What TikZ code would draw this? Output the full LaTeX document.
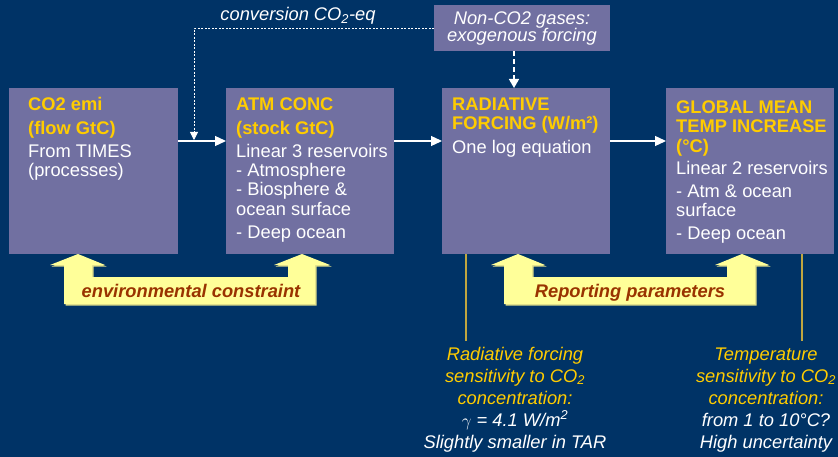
\documentclass[tikz,border=0pt]{standalone}
\usepackage{fontspec}
\setmainfont{Liberation Sans}
\usetikzlibrary{arrows.meta}
\definecolor{bg}{HTML}{003366}
\definecolor{boxc}{HTML}{7170A1}
\definecolor{ttl}{HTML}{FFCC00}
\definecolor{blk}{HTML}{FFFF99}
\definecolor{blksh}{HTML}{DCDC8A}
\definecolor{brn}{HTML}{993300}
\definecolor{goldl}{HTML}{C0A640}
\begin{document}
\begin{tikzpicture}[x=1pt,y=-1pt,
  box/.style={fill=boxc, draw=none, inner sep=0pt, anchor=north west},
  txt/.style={anchor=base west, inner sep=0pt, text=white, font=\fontsize{18.3pt}{19pt}\selectfont},
  ttlt/.style={anchor=base west, inner sep=0pt, text=ttl, font=\fontsize{18.3pt}{19pt}\selectfont\bfseries},
  itw/.style={anchor=base, inner sep=0pt, text=white, font=\fontsize{18.3pt}{19pt}\selectfont\itshape},
  ity/.style={anchor=base, inner sep=0pt, text=ttl, font=\fontsize{18.3pt}{19pt}\selectfont\itshape},
  blkt/.style={anchor=base, inner sep=0pt, text=brn, font=\fontsize{18.3pt}{19pt}\selectfont\bfseries\itshape},
  arr/.style={draw=white, line width=1.3pt, -{Triangle[length=11pt,width=10pt]}},
  dsha/.style={draw=white, line width=0.8pt, dash pattern=on 2pt off 1.5pt, -{Triangle[length=8pt,width=8pt]}},
  dshb/.style={draw=white, line width=1.6pt, dash pattern=on 5pt off 3pt, -{Triangle[length=9pt,width=10pt]}},
  goldline/.style={draw=goldl, line width=1.5pt}
]
\fill[bg] (0,0) rectangle (838,457);
\useasboundingbox (0,0) rectangle (838,457);

% boxes
\node[box, minimum width=169pt, minimum height=166pt] (b1) at (9,88) {};
\node[box, minimum width=168pt, minimum height=166pt] (b2) at (226,88) {};
\node[box, minimum width=168pt, minimum height=166pt] (b3) at (442,88) {};
\node[box, minimum width=168pt, minimum height=166pt] (b4) at (666,88) {};
\node[box, minimum width=176pt, minimum height=46pt] (nc) at (434,5) {};

% box 1 text
\node[ttlt] (t11) at (28,111) {CO2 emi};
\node[ttlt] (t12) at (28,135) {(flow GtC)};
\node[txt] (t13) at (28,158) {From TIMES};
\node[txt] (t14) at (28,177) {(processes)};
% box 2 text
\node[ttlt] (t21) at (236,111) {ATM CONC};
\node[ttlt] (t22) at (236,135) {(stock GtC)};
\node[txt] (t23) at (236,158) {Linear 3 reservoirs};
\node[txt] (t24) at (236,177) {- Atmosphere};
\node[txt] (t25) at (236,196) {- Biosphere \&};
\node[txt] (t26) at (236,215) {ocean surface};
\node[txt] (t27) at (236,239) {- Deep ocean};
% box 3 text
\node[ttlt] (t31) at (452,111) {RADIATIVE};
\node[ttlt] (t32) at (452,129.5) {FORCING (W/m²)};
\node[txt] (t33) at (452,154) {One log equation};
% box 4 text
\node[ttlt] (t41) at (676,114) {GLOBAL MEAN};
\node[ttlt] (t42) at (676,133) {TEMP INCREASE};
\node[ttlt] (t43) at (676,153) {(°C)};
\node[txt] (t44) at (676,175) {Linear 2 reservoirs};
\node[txt] (t45) at (676,198) {- Atm \& ocean};
\node[txt] (t46) at (676,217) {surface};
\node[txt] (t47) at (676,240) {- Deep ocean};
% non-CO2 text
\node[itw] (n1) at (522,25) {Non-CO2 gases:};
\node[itw] (n2) at (522,42) {exogenous forcing};
\node[itw] (conv) at (298,21) {conversion CO\textsubscript{2}-eq};

% connectors
\draw[arr] ([yshift=-53pt]b1.north east) -- ([yshift=-53pt]b2.north west);
\draw[arr] ([yshift=-53pt]b2.north east) -- ([yshift=-53pt]b3.north west);
\draw[arr] ([yshift=-53pt]b3.north east) -- ([yshift=-53pt]b4.north west);
\coordinate (j1) at (194,140);
\draw[dsha] (nc.west) -| (j1);
\coordinate (j2) at (514,0);
\draw[dshb] (nc.south -| j2) -- (b3.north -| j2);

% gold lines
\coordinate (g1) at (466,341);
\coordinate (g2) at (802,341);
\draw[goldline] (b3.south -| g1) -- (g1);
\draw[goldline] (b4.south -| g2) -- (g2);

% block arrows
\def\envpath{(78,254) -- (105,265) -- (92,265) -- (92,277) -- (288,277) -- (288,265) -- (274,265) -- (302,254) -- (330,265) -- (315,265) -- (315,304) -- (64,304) -- (64,265) -- (50,265) -- cycle}
\def\reppath{(518,254) -- (545,265) -- (532,265) -- (532,277) -- (727,277) -- (727,265) -- (715,265) -- (742,254) -- (769,265) -- (755,265) -- (755,304) -- (504,304) -- (504,265) -- (491,265) -- cycle}
\fill[blksh, shift={(1.5,1.5)}] \envpath;
\fill[blk] \envpath;
\fill[blksh, shift={(1.5,1.5)}] \reppath;
\fill[blk] \reppath;
\node[blkt] (env) at (191,297) {environmental constraint};
\node[blkt] (rep) at (630,297) {Reporting parameters};

% bottom notes
\node[ity] (l1) at (515,360) {Radiative forcing};
\node[ity] (l2) at (515,382) {sensitivity to CO\textsubscript{2}};
\node[ity] (l3) at (515,404) {concentration:};
\node[itw] (l4) at (515,426) {$\gamma$ = 4.1 W/m\textsuperscript{2}};
\node[itw] (l5) at (515,448) {Slightly smaller in TAR};
\node[ity] (r1) at (766,360) {Temperature};
\node[ity] (r2) at (766,382) {sensitivity to CO\textsubscript{2}};
\node[ity] (r3) at (766,404) {concentration:};
\node[itw] (r4) at (766,426) {from 1 to 10°C?};
\node[itw] (r5) at (766,448) {High uncertainty};
\end{tikzpicture}
\end{document}
